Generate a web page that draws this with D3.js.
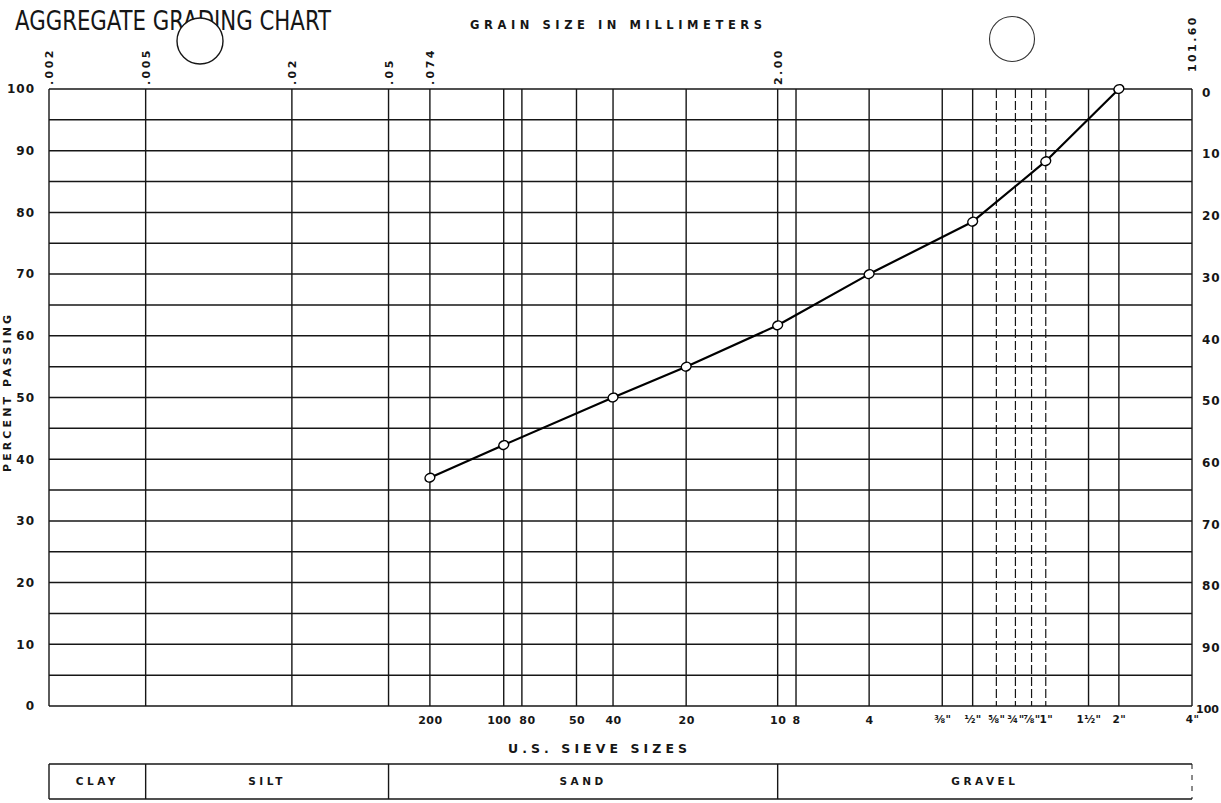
<!DOCTYPE html>
<html>
<head>
<meta charset="utf-8">
<script src="https://cdn.jsdelivr.net/npm/d3@7"></script>
<style>
  html, body { margin: 0; padding: 0; background: #fff; overflow: hidden; }
  svg { display: block; }
</style>
</head>
<body>
<script>
// ---------------- data ----------------
const chartTitle = "AGGREGATE GRADING CHART";
const topAxisTitle = "GRAIN SIZE IN MILLIMETERS";
const bottomAxisTitle = "U.S. SIEVE SIZES";
const leftAxisTitle = "PERCENT PASSING";

// grain size (mm) marks along the top
const mmTicks  = [0.002, 0.005, 0.02, 0.05, 0.074, 2.00, 101.6];
const mmLabels = [".002", ".005", ".02", ".05", ".074", "2.00", "101.60"];

// U.S. sieves along the bottom (opening in mm)
const sieveMm     = [0.074, 0.149, 0.177, 0.297, 0.42, 0.84, 2.00, 2.38, 4.76, 9.52, 12.7, 15.9, 19.05, 22.2, 25.4, 38.1, 50.8, 101.6];
const sieveLabels = ["200", "100", "80", "50", "40", "20", "10", "8", "4", "⅜\"", "½\"", "⅝\"", "¾\"", "⅞\"", "1\"", "1½\"", "2\"", "4\""];
const dashedSieves = ["⅝\"", "¾\"", "⅞\"", "1\""];

// percent axis
const gridPercents = [0, 5, 10, 15, 20, 25, 30, 35, 40, 45, 50, 55, 60, 65, 70, 75, 80, 85, 90, 95, 100];
const leftTicks = [0, 10, 20, 30, 40, 50, 60, 70, 80, 90, 100];
const rightTickLabels = ["100", "90", "80", "70", "60", "50", "40", "30", "20", "10", "0"]; // percent retained

// soil classes
const classNames  = ["CLAY", "SILT", "SAND", "GRAVEL"];
const classBounds = [0.002, 0.005, 0.05, 2.00, 101.6];

// grading curve
const pointSieves    = ["200", "100", "40", "20", "10", "4", "½\"", "1\"", "2\""];
const pointMm        = [0.074, 0.149, 0.42, 0.84, 2.00, 4.76, 12.7, 25.4, 50.8];
const percentPassing = [37, 42.3, 50, 55, 61.7, 70, 78.5, 88.3, 100];

// ---------------- layout ----------------
const W = 1221, H = 803;
const plot = { left: 49, right: 1192, top: 89, bottom: 706 };
const band = { top: 764, bottom: 799 };
const ink = "#161616";
const labelFont = "'DejaVu Sans', 'Liberation Sans', sans-serif";

const svg = d3.select("body").append("svg")
  .attr("width", W).attr("height", H)
  .attr("viewBox", `0 0 ${W} ${H}`);
svg.append("rect").attr("width", W).attr("height", H).attr("fill", "#fff");

const x = d3.scaleLog()
  .domain([mmTicks[0], mmTicks[mmTicks.length - 1]])
  .range([plot.left, plot.right]);
const y = d3.scaleLinear().domain([0, 100]).range([plot.bottom, plot.top]);

// ---------------- grid ----------------
const grid = svg.append("g").attr("stroke", ink).attr("fill", "none");

grid.selectAll("line.h").data(gridPercents).join("line")
  .attr("class", "h")
  .attr("x1", x(mmTicks[0])).attr("x2", x(mmTicks[mmTicks.length - 1]))
  .attr("y1", d => y(d)).attr("y2", d => y(d))
  .attr("stroke-width", 1.5);

const verticals = [];
mmTicks.forEach(d => verticals.push({ mm: d, dashed: false }));
sieveMm.forEach((d, i) => {
  if (!verticals.some(v => Math.abs(v.mm - d) < 1e-6))
    verticals.push({ mm: d, dashed: dashedSieves.includes(sieveLabels[i]) });
});

grid.selectAll("line.v").data(verticals).join("line")
  .attr("class", "v")
  .attr("x1", d => x(d.mm)).attr("x2", d => x(d.mm))
  .attr("y1", y(100)).attr("y2", y(0))
  .attr("stroke-width", d => d.dashed ? 1.2 : 1.4)
  .attr("stroke-dasharray", d => d.dashed ? "9,3" : null);

// ---------------- axes ----------------
// left: percent passing
const leftAxis = svg.append("g")
  .attr("transform", `translate(${plot.left},0)`)
  .call(d3.axisLeft(y).tickValues(leftTicks).tickSize(0).tickPadding(14).tickFormat(d3.format("d")));
leftAxis.select(".domain").remove();
leftAxis.selectAll("text")
  .attr("font-family", labelFont).attr("font-weight", "bold")
  .attr("font-size", 12).attr("fill", ink).attr("letter-spacing", 1);

// right: percent retained
const rightAxis = svg.append("g")
  .attr("transform", `translate(${plot.right},0)`)
  .call(d3.axisRight(y).tickValues(leftTicks).tickSize(0).tickPadding(10)
    .tickFormat((d, i) => rightTickLabels[i]));
rightAxis.select(".domain").remove();
rightAxis.selectAll("text")
  .attr("font-family", labelFont).attr("font-weight", "bold")
  .attr("font-size", 12).attr("fill", ink).attr("letter-spacing", 1)
  .attr("dy", "0.6em")
  .each(function(d, i) {
    if (rightTickLabels[i].length > 2) {
      // widest label: keep it inside the page edge
      d3.select(this).attr("letter-spacing", 0).attr("font-size", 11)
        .attr("text-anchor", "end").attr("x", W - plot.right - 2);
    }
  });

// top: grain size in mm (rotated)
const topAxis = svg.append("g")
  .attr("transform", `translate(0,${plot.top})`)
  .call(d3.axisTop(x).tickValues(mmTicks).tickSize(0).tickFormat((d, i) => mmLabels[i]));
topAxis.select(".domain").remove();
topAxis.selectAll("text")
  .attr("transform", "rotate(-90)")
  .attr("x", (d, i) => i === mmTicks.length - 1 ? 17 : 4)
  .attr("y", 0)
  .attr("dy", "0.36em")
  .attr("text-anchor", "start")
  .attr("font-family", labelFont).attr("font-weight", "bold")
  .attr("font-size", 11).attr("fill", ink).attr("letter-spacing", 2.4);

// bottom: U.S. sieve sizes
const bottomAxis = svg.append("g")
  .attr("transform", `translate(0,${plot.bottom})`)
  .call(d3.axisBottom(x).tickValues(sieveMm).tickSize(0).tickPadding(10)
    .tickFormat((d, i) => sieveLabels[i]));
bottomAxis.select(".domain").remove();
bottomAxis.selectAll("text")
  .attr("font-family", labelFont).attr("font-weight", "bold")
  .attr("font-size", (d, i) => sieveLabels[i].includes("\"") ? 10.5 : 11)
  .attr("fill", ink).attr("letter-spacing", 0.4)
  // nudge the two crowded neighbours (100 / 80) apart
  .attr("dx", (d, i) => sieveLabels[i] === "100" ? -5 : sieveLabels[i] === "80" ? 5 : 0);

// ---------------- titles ----------------
svg.append("text")
  .attr("x", 15).attr("y", 30)
  .attr("font-family", "'Liberation Sans Narrow', 'DejaVu Sans Condensed', 'Liberation Sans', sans-serif")
  .attr("font-size", 26).attr("fill", ink)
  .attr("textLength", 316).attr("lengthAdjust", "spacingAndGlyphs")
  .text(chartTitle);

svg.append("text")
  .attr("x", 470).attr("y", 29)
  .attr("font-family", labelFont).attr("font-weight", "bold")
  .attr("font-size", 11.5).attr("fill", ink)
  .attr("textLength", 292).attr("lengthAdjust", "spacing")
  .text(topAxisTitle);

svg.append("text")
  .attr("x", 508).attr("y", 753)
  .attr("font-family", labelFont).attr("font-weight", "bold")
  .attr("font-size", 12.5).attr("fill", ink)
  .attr("textLength", 179).attr("lengthAdjust", "spacing")
  .text(bottomAxisTitle);

svg.append("text")
  .attr("transform", "translate(11,472) rotate(-90)")
  .attr("font-family", labelFont).attr("font-weight", "bold")
  .attr("font-size", 11).attr("fill", ink)
  .attr("textLength", 157).attr("lengthAdjust", "spacing")
  .text(leftAxisTitle);

// ---------------- classification band ----------------
const bandG = svg.append("g").attr("stroke", ink).attr("fill", "none");
bandG.append("line")
  .attr("x1", x(classBounds[0])).attr("x2", x(classBounds[classBounds.length - 1]))
  .attr("y1", band.top).attr("y2", band.top).attr("stroke-width", 1.5);
bandG.append("line")
  .attr("x1", x(classBounds[0])).attr("x2", x(classBounds[classBounds.length - 1]))
  .attr("y1", band.bottom).attr("y2", band.bottom).attr("stroke-width", 1.5);
bandG.selectAll("line.div").data(classBounds).join("line")
  .attr("class", "div")
  .attr("x1", d => x(d)).attr("x2", d => x(d))
  .attr("y1", band.top).attr("y2", band.bottom)
  .attr("stroke-width", (d, i) => i === classBounds.length - 1 ? 1 : 1.4)
  .attr("stroke-dasharray", (d, i) => i === classBounds.length - 1 ? "5,6" : null);

svg.append("g").selectAll("text").data(classNames).join("text")
  .attr("x", (d, i) => (x(classBounds[i]) + x(classBounds[i + 1])) / 2)
  .attr("y", (band.top + band.bottom) / 2)
  .attr("dy", "0.36em")
  .attr("text-anchor", "middle")
  .attr("font-family", labelFont).attr("font-weight", "bold")
  .attr("font-size", 10.5).attr("fill", ink).attr("letter-spacing", 3.5)
  .text(d => d);

// ---------------- binder holes ----------------
svg.append("circle")
  .attr("cx", 200).attr("cy", 41).attr("r", 23)
  .attr("fill", "#fff").attr("stroke", ink).attr("stroke-width", 1.4);
svg.append("circle")
  .attr("cx", 1012).attr("cy", 39).attr("r", 22.5)
  .attr("fill", "none").attr("stroke", "#333").attr("stroke-width", 1.1);

// ---------------- grading curve ----------------
const pts = pointMm.map((d, i) => ({ mm: d, p: percentPassing[i], sieve: pointSieves[i] }));
const line = d3.line().x(d => x(d.mm)).y(d => y(d.p)).curve(d3.curveLinear);
svg.append("path")
  .datum(pts)
  .attr("d", line)
  .attr("fill", "none").attr("stroke", "#000").attr("stroke-width", 2.2)
  .attr("stroke-linejoin", "round");

svg.append("g").selectAll("ellipse").data(pts).join("ellipse")
  .attr("cx", d => x(d.mm)).attr("cy", d => y(d.p))
  .attr("rx", 5).attr("ry", 4.2)
  .attr("transform", d => `rotate(-25,${x(d.mm)},${y(d.p)})`)
  .attr("fill", "#fff").attr("stroke", "#000").attr("stroke-width", 1.5);
</script>
</body>
</html>
